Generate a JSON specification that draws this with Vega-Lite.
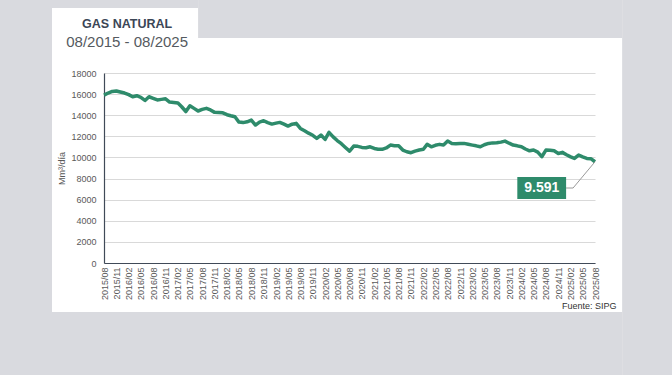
{
  "$schema": "https://vega.github.io/schema/vega-lite/v6.json",
  "autosize": {"type": "none"},
  "width": 491,
  "height": 190,
  "padding": {"left": 104, "top": 73, "right": 77, "bottom": 112},
  "background": "white",
  "config": {"font": "Liberation Sans", "view": {"stroke": null}},
  "data": {"values": [
    {"m":"2015-08-01","v":15900},{"m":"2015-09-01","v":16100},{"m":"2015-10-01","v":16250},{"m":"2015-11-01","v":16300},{"m":"2015-12-01","v":16200},
    {"m":"2016-01-01","v":16100},{"m":"2016-02-01","v":15950},{"m":"2016-03-01","v":15750},{"m":"2016-04-01","v":15850},{"m":"2016-05-01","v":15700},
    {"m":"2016-06-01","v":15400},{"m":"2016-07-01","v":15750},{"m":"2016-08-01","v":15600},{"m":"2016-09-01","v":15450},{"m":"2016-10-01","v":15500},
    {"m":"2016-11-01","v":15550},{"m":"2016-12-01","v":15250},{"m":"2017-01-01","v":15200},{"m":"2017-02-01","v":15150},{"m":"2017-03-01","v":14800},
    {"m":"2017-04-01","v":14350},{"m":"2017-05-01","v":14900},{"m":"2017-06-01","v":14650},{"m":"2017-07-01","v":14400},{"m":"2017-08-01","v":14550},
    {"m":"2017-09-01","v":14650},{"m":"2017-10-01","v":14500},{"m":"2017-11-01","v":14270},{"m":"2017-12-01","v":14250},{"m":"2018-01-01","v":14230},
    {"m":"2018-02-01","v":14050},{"m":"2018-03-01","v":13950},{"m":"2018-04-01","v":13850},{"m":"2018-05-01","v":13350},{"m":"2018-06-01","v":13300},
    {"m":"2018-07-01","v":13380},{"m":"2018-08-01","v":13540},{"m":"2018-09-01","v":13070},{"m":"2018-10-01","v":13350},{"m":"2018-11-01","v":13480},
    {"m":"2018-12-01","v":13300},{"m":"2019-01-01","v":13160},{"m":"2019-02-01","v":13250},{"m":"2019-03-01","v":13320},{"m":"2019-04-01","v":13150},
    {"m":"2019-05-01","v":12970},{"m":"2019-06-01","v":13150},{"m":"2019-07-01","v":13230},{"m":"2019-08-01","v":12750},{"m":"2019-09-01","v":12530},
    {"m":"2019-10-01","v":12300},{"m":"2019-11-01","v":12100},{"m":"2019-12-01","v":11810},{"m":"2020-01-01","v":12120},{"m":"2020-02-01","v":11710},
    {"m":"2020-03-01","v":12380},{"m":"2020-04-01","v":11950},{"m":"2020-05-01","v":11600},{"m":"2020-06-01","v":11300},{"m":"2020-07-01","v":10950},
    {"m":"2020-08-01","v":10600},{"m":"2020-09-01","v":11080},{"m":"2020-10-01","v":11050},{"m":"2020-11-01","v":10950},{"m":"2020-12-01","v":10920},
    {"m":"2021-01-01","v":11010},{"m":"2021-02-01","v":10850},{"m":"2021-03-01","v":10780},{"m":"2021-04-01","v":10770},{"m":"2021-05-01","v":10900},
    {"m":"2021-06-01","v":11170},{"m":"2021-07-01","v":11110},{"m":"2021-08-01","v":11100},{"m":"2021-09-01","v":10700},{"m":"2021-10-01","v":10540},
    {"m":"2021-11-01","v":10450},{"m":"2021-12-01","v":10600},{"m":"2022-01-01","v":10700},{"m":"2022-02-01","v":10770},{"m":"2022-03-01","v":11240},
    {"m":"2022-04-01","v":11010},{"m":"2022-05-01","v":11150},{"m":"2022-06-01","v":11240},{"m":"2022-07-01","v":11170},{"m":"2022-08-01","v":11550},
    {"m":"2022-09-01","v":11330},{"m":"2022-10-01","v":11300},{"m":"2022-11-01","v":11320},{"m":"2022-12-01","v":11330},{"m":"2023-01-01","v":11250},
    {"m":"2023-02-01","v":11170},{"m":"2023-03-01","v":11100},{"m":"2023-04-01","v":11010},{"m":"2023-05-01","v":11200},{"m":"2023-06-01","v":11330},
    {"m":"2023-07-01","v":11380},{"m":"2023-08-01","v":11390},{"m":"2023-09-01","v":11450},{"m":"2023-10-01","v":11550},{"m":"2023-11-01","v":11350},
    {"m":"2023-12-01","v":11170},{"m":"2024-01-01","v":11100},{"m":"2024-02-01","v":11010},{"m":"2024-03-01","v":10800},{"m":"2024-04-01","v":10630},
    {"m":"2024-05-01","v":10700},{"m":"2024-06-01","v":10500},{"m":"2024-07-01","v":10070},{"m":"2024-08-01","v":10700},{"m":"2024-09-01","v":10680},
    {"m":"2024-10-01","v":10630},{"m":"2024-11-01","v":10380},{"m":"2024-12-01","v":10480},{"m":"2025-01-01","v":10250},{"m":"2025-02-01","v":10050},
    {"m":"2025-03-01","v":9910},{"m":"2025-04-01","v":10230},{"m":"2025-05-01","v":10050},{"m":"2025-06-01","v":9910},{"m":"2025-07-01","v":9880},
    {"m":"2025-08-01","v":9591}
  ]},
  "layer": [
    {
      "mark": {"type": "line", "color": "#2e8b6b", "strokeWidth": 3.5, "strokeJoin": "round"},
      "encoding": {
        "x": {
          "field": "m", "type": "temporal",
          "scale": {"type": "utc", "domain": [{"year": 2015, "month": 8, "date": 1, "utc": true}, {"year": 2025, "month": 8, "date": 1, "utc": true}], "nice": false},
          "axis": {
            "title": "Fuente: SIPG",
            "titleFontSize": 9,
            "titleFontWeight": "normal",
            "titleColor": "#333333",
            "titleAlign": "right",
            "titleBaseline": "alphabetic",
            "titleX": 512,
            "titleY": 45,
            "tickCount": {"interval": "month", "step": 1},
            "labelExpr": "utcmonth(datum.value) % 3 == 1 ? utcFormat(datum.value, '%Y/%m') : ''",
            "labelAngle": 270,
            "labelFontSize": 9,
            "labelColor": "#595959",
            "labelOverlap": false,
            "labelFlush": false,
            "labelBound": false,
            "labelPadding": 4,
            "ticks": false,
            "grid": false,
            "domainColor": "#404a58",
            "domainWidth": 1.2
          }
        },
        "y": {
          "field": "v", "type": "quantitative",
          "scale": {"domain": [0, 18000], "nice": false, "zero": true},
          "axis": {
            "title": "Mm³/día",
            "titleFontSize": 9,
            "titleFontWeight": "normal",
            "titleColor": "#595959",
            "titlePadding": 4,
            "values": [0, 2000, 4000, 6000, 8000, 10000, 12000, 14000, 16000, 18000],
            "tickCount": 10,
            "labelOverlap": false,
            "format": "d",
            "labelFontSize": 9,
            "labelColor": "#595959",
            "labelPadding": 8,
            "ticks": false,
            "grid": true,
            "gridColor": "#d9d9d9",
            "gridWidth": 1,
            "domainColor": "#404a58",
            "domainWidth": 1.2
          }
        }
      }
    },
    {
      "data": {"values": [{}]},
      "mark": {"type": "rect", "color": "#d9dadf"},
      "encoding": {
        "x": {"datum": {"year": 2012, "month": 1, "date": 1, "utc": true}, "type": "temporal"},
        "x2": {"datum": {"year": 2014, "month": 7, "date": 10, "utc": true}},
        "y": {"datum": -15000, "type": "quantitative"},
        "y2": {"datum": 30000}
      }
    },
    {
      "data": {"values": [{}]},
      "mark": {"type": "rect", "color": "#d9dadf"},
      "encoding": {
        "x": {"datum": {"year": 2026, "month": 2, "date": 19, "utc": true}, "type": "temporal"},
        "x2": {"datum": {"year": 2028, "month": 12, "date": 31, "utc": true}},
        "y": {"datum": -15000, "type": "quantitative"},
        "y2": {"datum": 30000}
      }
    },
    {
      "data": {"values": [{}]},
      "mark": {"type": "rect", "color": "#d9dadf"},
      "encoding": {
        "x": {"datum": {"year": 2014, "month": 7, "date": 10, "utc": true}, "type": "temporal"},
        "x2": {"datum": {"year": 2026, "month": 2, "date": 19, "utc": true}},
        "y": {"datum": -15000, "type": "quantitative"},
        "y2": {"datum": -4642}
      }
    },
    {
      "data": {"values": [{}]},
      "mark": {"type": "rect", "color": "#d9dadf"},
      "encoding": {
        "x": {"datum": {"year": 2017, "month": 7, "date": 1, "utc": true}, "type": "temporal"},
        "x2": {"datum": {"year": 2026, "month": 2, "date": 19, "utc": true}},
        "y": {"datum": 21316, "type": "quantitative"},
        "y2": {"datum": 30000}
      }
    },
    {
      "data": {"values": [{}]},
      "mark": {"type": "rect", "color": "#d9dadf"},
      "encoding": {
        "x": {"datum": {"year": 2014, "month": 7, "date": 10, "utc": true}, "type": "temporal"},
        "x2": {"datum": {"year": 2017, "month": 7, "date": 1, "utc": true}},
        "y": {"datum": 24159, "type": "quantitative"},
        "y2": {"datum": 30000}
      }
    },
    {
      "data": {"values": [{}]},
      "mark": {"type": "rule", "color": "#9a9a9a", "strokeWidth": 1},
      "encoding": {
        "x": {"datum": {"year": 2024, "month": 12, "date": 29, "utc": true}, "type": "temporal"},
        "x2": {"datum": {"year": 2025, "month": 2, "date": 19, "utc": true}},
        "y": {"datum": 7105, "type": "quantitative"},
        "y2": {"datum": 7105}
      }
    },
    {
      "data": {"values": [{}]},
      "mark": {"type": "rule", "color": "#9a9a9a", "strokeWidth": 1},
      "encoding": {
        "x": {"datum": {"year": 2025, "month": 2, "date": 19, "utc": true}, "type": "temporal"},
        "x2": {"datum": {"year": 2025, "month": 8, "date": 1, "utc": true}},
        "y": {"datum": 7105, "type": "quantitative"},
        "y2": {"datum": 9591}
      }
    },
    {
      "data": {"values": [{}]},
      "mark": {"type": "rect", "color": "#2e8b6b"},
      "encoding": {
        "x": {"datum": {"year": 2024, "month": 1, "date": 1, "utc": true}, "type": "temporal"},
        "x2": {"datum": {"year": 2024, "month": 12, "date": 29, "utc": true}},
        "y": {"datum": 6063, "type": "quantitative"},
        "y2": {"datum": 8147}
      }
    },
    {
      "data": {"values": [{"label": "9.591"}]},
      "mark": {"type": "text", "color": "white", "fontSize": 14, "fontWeight": "bold", "align": "center", "baseline": "middle"},
      "encoding": {
        "x": {"datum": {"year": 2024, "month": 7, "date": 1, "utc": true}, "type": "temporal"},
        "y": {"datum": 7105, "type": "quantitative"},
        "text": {"field": "label"}
      }
    },
    {
      "data": {"values": [{"t": "GAS NATURAL"}]},
      "mark": {"type": "text", "color": "#3b4656", "fontSize": 12.5, "fontWeight": "bold", "align": "center", "baseline": "alphabetic"},
      "encoding": {
        "x": {"datum": {"year": 2016, "month": 1, "date": 20, "utc": true}, "type": "temporal"},
        "y": {"datum": 22264, "type": "quantitative"},
        "text": {"field": "t"}
      }
    },
    {
      "data": {"values": [{"t": "08/2015 - 08/2025"}]},
      "mark": {"type": "text", "color": "#555a60", "fontSize": 15, "align": "center", "baseline": "alphabetic"},
      "encoding": {
        "x": {"datum": {"year": 2016, "month": 1, "date": 20, "utc": true}, "type": "temporal"},
        "y": {"datum": 20464, "type": "quantitative"},
        "text": {"field": "t"}
      }
    }
  ]
}
